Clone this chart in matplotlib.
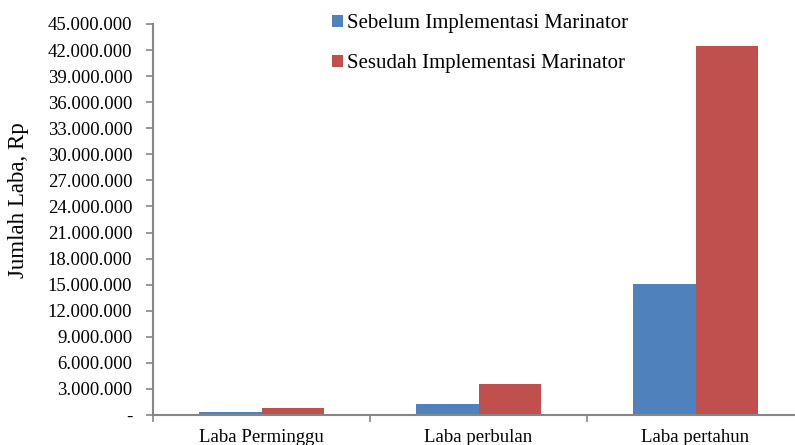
import numpy as np
import matplotlib.pyplot as plt
from matplotlib.ticker import FuncFormatter

# Data (Rp)
categories = ['Laba Perminggu', 'Laba perbulan', 'Laba pertahun']
sebelum = [290000, 1250000, 15050000]
sesudah = [815000, 3530000, 42500000]
series_names = ['Sebelum Implementasi Marinator', 'Sesudah Implementasi Marinator']
yticks = np.arange(0, 45000001, 3000000)

plt.rcParams['font.family'] = ['Liberation Serif', 'DejaVu Serif']

fig = plt.figure(figsize=(7.95, 4.45), dpi=100)
ax = fig.add_axes([153 / 795, 1 - 415 / 445, (804 - 153) / 795, (415 - 24) / 445])

x = np.arange(len(categories))
w = 0.286
ax.bar(x - w / 2, sebelum, w, color='#4F81BD', label=series_names[0])
ax.bar(x + w / 2, sesudah, w, color='#C0504D', label=series_names[1])

ax.set_xlim(-0.5, 2.5)
ax.set_ylim(0, 45000000)
ax.set_yticks(yticks)


def fmt(v, pos):
    if v == 0:
        return '-'
    return f'{int(v):,}'.replace(',', '.')


ax.yaxis.set_major_formatter(FuncFormatter(fmt))
ax.set_xticks(x)
ax.set_xticklabels(categories)
ax.set_xticks([-0.5, 0.5, 1.5, 2.5], minor=True)
ax.tick_params(axis='x', which='major', length=0, pad=10, labelsize=13.5)
ax.tick_params(axis='x', which='minor', length=5, color='#868686', width=1.2)
ax.tick_params(axis='y', length=5, color='#868686', width=1.2, labelsize=13.5, pad=10)

for s in ['top', 'right']:
    ax.spines[s].set_visible(False)
for s in ['left', 'bottom']:
    ax.spines[s].set_color('#868686')
    ax.spines[s].set_linewidth(1.5)

ax.set_ylabel('Jumlah Laba, Rp', fontsize=16.5)
ax.yaxis.set_label_coords(-0.19, 0.55)

ax.legend(loc='upper left', bbox_to_anchor=(322 / 795, 1 - 4 / 445),
          bbox_transform=fig.transFigure, frameon=False, fontsize=15,
          handlelength=0.5, handleheight=0.5, handletextpad=0.2,
          labelspacing=1.0, borderpad=0)

fig.savefig('out.png', dpi=100)
